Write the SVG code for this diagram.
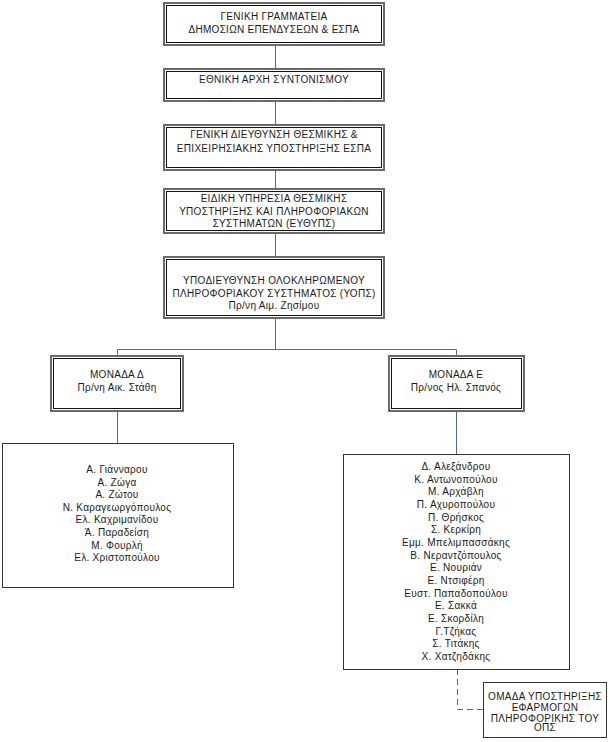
<svg xmlns="http://www.w3.org/2000/svg" width="610" height="742" viewBox="0 0 610 742">
<style>
.bg{fill:#ffffff}
.outer{fill:#ffffff;stroke:#6a6a6a;stroke-width:2}
.inner{fill:none;stroke:#111111;stroke-width:1}
.single{fill:#ffffff;stroke:#333333;stroke-width:1}
.t{font-family:"Liberation Sans",Arial,sans-serif;font-size:10px;fill:#1a1a1a;text-anchor:middle;letter-spacing:0.3px}
.c{fill:none;stroke:#4a6a9c;stroke-width:1}
.d{fill:none;stroke:#4a6a9c;stroke-width:1;stroke-dasharray:6 4}
</style>
<rect class="bg" x="0" y="0" width="610" height="742"/>
<g id="connectors">
<path class="c" d="M275.5 45V68M275.5 101V124M275.5 170V188M275.5 233V256M275.5 318V349.5"/>
<path class="c" d="M117.5 349.5H456.5M117.5 349.5V355M456.5 349.5V355"/>
<path class="c" d="M117.5 411V443M456.5 411V454"/>
<path class="d" d="M457.5 669V709.5H483"/>
</g>
<g id="n1">
<rect class="outer" x="164" y="3" width="220" height="42"/>
<rect class="inner" x="166.5" y="5.5" width="215" height="37"/>
<text class="t" x="274" y="20">ΓΕΝΙΚΗ ΓΡΑΜΜΑΤΕΙΑ</text>
<text class="t" x="274" y="33">ΔΗΜΟΣΙΩΝ ΕΠΕΝΔΥΣΕΩΝ &amp; ΕΣΠΑ</text>
</g>
<g id="n2">
<rect class="outer" x="164" y="69" width="220" height="32"/>
<rect class="inner" x="166.5" y="71.5" width="215" height="27"/>
<text class="t" x="274" y="83">ΕΘΝΙΚΗ ΑΡΧΗ ΣΥΝΤΟΝΙΣΜΟΥ</text>
</g>
<g id="n3">
<rect class="outer" x="164" y="125" width="220" height="45"/>
<rect class="inner" x="166.5" y="127.5" width="215" height="40"/>
<text class="t" x="274" y="138">ΓΕΝΙΚΗ ΔΙΕΥΘΥΝΣΗ ΘΕΣΜΙΚΗΣ &amp;</text>
<text class="t" x="274" y="151.5">ΕΠΙΧΕΙΡΗΣΙΑΚΗΣ ΥΠΟΣΤΗΡΙΞΗΣ ΕΣΠΑ</text>
</g>
<g id="n4">
<rect class="outer" x="164" y="189" width="220" height="44"/>
<rect class="inner" x="166.5" y="191.5" width="215" height="39"/>
<text class="t" x="274" y="202">ΕΙΔΙΚΗ ΥΠΗΡΕΣΙΑ ΘΕΣΜΙΚΗΣ</text>
<text class="t" x="274" y="214.5">ΥΠΟΣΤΗΡΙΞΗΣ ΚΑΙ ΠΛΗΡΟΦΟΡΙΑΚΩΝ</text>
<text class="t" x="274" y="227">ΣΥΣΤΗΜΑΤΩΝ (ΕΥΘΥΠΣ)</text>
</g>
<g id="n5">
<rect class="outer" x="164" y="257" width="220" height="61"/>
<rect class="inner" x="166.5" y="259.5" width="215" height="56"/>
<text class="t" x="274" y="284">ΥΠΟΔΙΕΥΘΥΝΣΗ ΟΛΟΚΛΗΡΩΜΕΝΟΥ</text>
<text class="t" x="274" y="297">ΠΛΗΡΟΦΟΡΙΑΚΟΥ ΣΥΣΤΗΜΑΤΟΣ (ΥΟΠΣ)</text>
<text class="t" x="274" y="309">Πρ/νη Αιμ. Ζησίμου</text>
</g>
<g id="monadaD">
<rect class="outer" x="51" y="356" width="132" height="55"/>
<rect class="inner" x="53.5" y="358.5" width="127" height="50"/>
<text class="t" x="117" y="378">ΜΟΝΑΔΑ Δ</text>
<text class="t" x="117" y="391">Πρ/νη Αικ. Στάθη</text>
</g>
<g id="monadaE">
<rect class="outer" x="389" y="356" width="135" height="55"/>
<rect class="inner" x="391.5" y="358.5" width="130" height="50"/>
<text class="t" x="456" y="378">ΜΟΝΑΔΑ Ε</text>
<text class="t" x="456" y="391">Πρ/νος Ηλ. Σπανός</text>
</g>
<g id="listD">
<rect class="single" x="2.5" y="443.5" width="231" height="144"/>
<text class="t" x="117" y="473">Α. Γιάνναρου</text>
<text class="t" x="117" y="485.6">Α. Ζώγα</text>
<text class="t" x="117" y="498.2">Α. Ζώτου</text>
<text class="t" x="117" y="510.8">Ν. Καραγεωργόπουλος</text>
<text class="t" x="117" y="523.4">Ελ. Καχριμανίδου</text>
<text class="t" x="117" y="536">Ά. Παραδείση</text>
<text class="t" x="117" y="548.6">Μ. Φουρλή</text>
<text class="t" x="117" y="561.2">Ελ. Χριστοπούλου</text>
</g>
<g id="listE">
<rect class="single" x="343.5" y="454.5" width="226" height="215"/>
<text class="t" x="456" y="470">Δ. Αλεξάνδρου</text>
<text class="t" x="456" y="482.7">Κ. Αντωνοπούλου</text>
<text class="t" x="456" y="495.3">Μ. Αρχάβλη</text>
<text class="t" x="456" y="508">Π. Αχυροπούλου</text>
<text class="t" x="456" y="520.7">Π. Θρήσκος</text>
<text class="t" x="456" y="533.3">Σ. Κερκίρη</text>
<text class="t" x="456" y="546">Εμμ. Μπελιμπασσάκης</text>
<text class="t" x="456" y="558.7">Β. Νεραντζόπουλος</text>
<text class="t" x="456" y="571.3">Ε. Νουριάν</text>
<text class="t" x="456" y="584">Ε. Ντσιφέρη</text>
<text class="t" x="456" y="596.7">Ευστ. Παπαδοπούλου</text>
<text class="t" x="456" y="609.3">Ε. Σακκά</text>
<text class="t" x="456" y="622">Ε. Σκορδίλη</text>
<text class="t" x="456" y="634.7">Γ.Τζήκας</text>
<text class="t" x="456" y="647.3">Σ. Τιτάκης</text>
<text class="t" x="456" y="660">Χ. Χατζηδάκης</text>
</g>
<g id="omada">
<rect class="single" x="483.5" y="682.5" width="123" height="55"/>
<text class="t" x="545" y="700">ΟΜΑΔΑ ΥΠΟΣΤΗΡΙΞΗΣ</text>
<text class="t" x="545" y="710.5">ΕΦΑΡΜΟΓΩΝ</text>
<text class="t" x="545" y="721.5">ΠΛΗΡΟΦΟΡΙΚΗΣ ΤΟΥ</text>
<text class="t" x="545" y="731">ΟΠΣ</text>
</g>
</svg>
